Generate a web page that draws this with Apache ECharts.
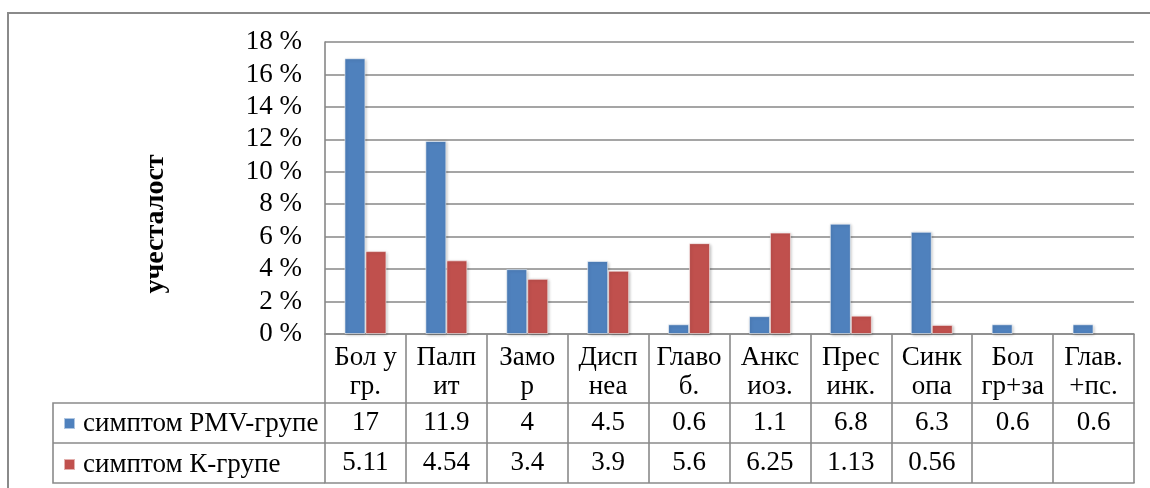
<!DOCTYPE html>
<html>
<head>
<meta charset="utf-8">
<title>учесталост симптома</title>
<script src="https://cdn.jsdelivr.net/npm/echarts@6/dist/echarts.min.js"></script>
<style>
  html, body { margin: 0; padding: 0; background: #fff; }
  #chart { width: 1150px; height: 488px; }
</style>
</head>
<body>
<div id="chart"></div>
<script>
// Symptom categories (two-line headers of the data table)
const categories = ['Бол у\nгр.', 'Палп\nит', 'Замо\nр', 'Дисп\nнеа', 'Главо\nб.', 'Анкс\nиоз.', 'Прес\nинк.', 'Синк\nопа', 'Бол\nгр+за', 'Глав.\n+пс.'];
// Frequency in percent per group
const pmvValues = [17, 11.9, 4, 4.5, 0.6, 1.1, 6.8, 6.3, 0.6, 0.6];
const kValues = [5.11, 4.54, 3.4, 3.9, 5.6, 6.25, 1.13, 0.56, null, null];
const seriesNames = ['симптом PMV-групе', 'симптом К-групе'];
const yTicks = { min: 0, max: 18, step: 2 };
const yTitle = 'учесталост';

const FONT = 'Liberation Serif, Times New Roman, serif';
const FS = 27;
const GRID_COLOR = '#878787';
const TABLE_COLOR = '#8a8a8a';
const BLUE = '#4F81BD';
const RED = '#C0504D';

const chart = echarts.init(document.getElementById('chart'));

const fmt = v => (v === null || v === undefined) ? '' : String(v);

// Rows of the data table are extra category axes stacked under the plot.
function tableAxis(offset, values, showTicks) {
  return {
    type: 'category',
    data: categories,
    position: 'bottom',
    offset: offset,
    boundaryGap: true,
    axisLine: { show: true, lineStyle: { color: TABLE_COLOR, width: 1.6 } },
    axisTick: { show: showTicks, interval: 0, length: 40, lineStyle: { color: TABLE_COLOR, width: 1.6 } },
    axisLabel: {
      show: !!values,
      interval: 0,
      margin: 7,
      fontFamily: FONT,
      fontSize: FS,
      lineHeight: 26,
      color: '#000',
      formatter: (v, i) => values ? fmt(values[i]) : ''
    },
    splitLine: { show: false }
  };
}

const barStyle = color => ({
  color: color,
  borderColor: 'rgba(255,255,255,0.55)',
  borderWidth: 1,
  shadowColor: 'rgba(0,0,0,0.28)',
  shadowBlur: 3,
  shadowOffsetX: 1,
  shadowOffsetY: 1
});

chart.setOption({
  animation: false,
  backgroundColor: '#fff',
  grid: { left: 325, top: 42, right: 16, bottom: 154, containLabel: false },
  legend: {
    orient: 'vertical',
    left: 63,
    top: 410,
    padding: 0,
    itemWidth: 11,
    itemHeight: 11,
    itemGap: 14,
    icon: 'rect',
    selectedMode: false,
    data: seriesNames,
    textStyle: { fontFamily: FONT, fontSize: FS, lineHeight: 26, color: '#000', padding: [0, 0, 0, 3] }
  },
  xAxis: [
    {
      type: 'category',
      data: categories,
      position: 'bottom',
      boundaryGap: true,
      axisLine: { show: true, lineStyle: { color: TABLE_COLOR, width: 1.6 } },
      axisTick: { show: true, interval: 0, length: 69, lineStyle: { color: TABLE_COLOR, width: 1.6 } },
      axisLabel: {
        interval: 0,
        margin: 9,
        fontFamily: FONT,
        fontSize: FS,
        lineHeight: 29,
        color: '#000'
      },
      splitLine: { show: false }
    },
    tableAxis(69, pmvValues, true),
    tableAxis(109, kValues, true),
    tableAxis(149, null, false)
  ],
  yAxis: {
    type: 'value',
    min: yTicks.min,
    max: yTicks.max,
    interval: yTicks.step,
    axisLine: { show: true, lineStyle: { color: GRID_COLOR, width: 1.6 } },
    axisTick: { show: false },
    axisLabel: {
      margin: 23,
      fontFamily: FONT,
      fontSize: FS,
      color: '#000',
      formatter: '{value} %'
    },
    splitLine: { show: true, lineStyle: { color: GRID_COLOR, width: 1.6 } }
  },
  series: [
    {
      name: seriesNames[0],
      type: 'bar',
      xAxisIndex: 0,
      data: pmvValues,
      barWidth: 21,
      barGap: '0%',
      itemStyle: barStyle(BLUE)
    },
    {
      name: seriesNames[1],
      type: 'bar',
      xAxisIndex: 0,
      data: kValues,
      barWidth: 21,
      barGap: '0%',
      itemStyle: barStyle(RED)
    }
  ],
  graphic: [
    // chart frame
    {
      type: 'rect', z: -10, silent: true,
      shape: { x: 8, y: 13, width: 1200, height: 600 },
      style: { fill: null, stroke: '#8a8a8a', lineWidth: 2 }
    },
    // legend column of the data table
    {
      type: 'polyline', silent: true,
      shape: { points: [[325, 403], [53, 403], [53, 483], [325, 483]] },
      style: { fill: null, stroke: TABLE_COLOR, lineWidth: 1.6 }
    },
    {
      type: 'line', silent: true,
      shape: { x1: 53, y1: 443, x2: 325, y2: 443 },
      style: { stroke: TABLE_COLOR, lineWidth: 1.6 }
    },
    // vertical axis title
    {
      type: 'text', silent: true,
      x: 156, y: 224, rotation: Math.PI / 2,
      style: {
        text: yTitle,
        fontFamily: FONT,
        fontSize: 28,
        fontWeight: 'bold',
        fill: '#000',
        align: 'center',
        verticalAlign: 'middle'
      }
    }
  ]
});
</script>
</body>
</html>
